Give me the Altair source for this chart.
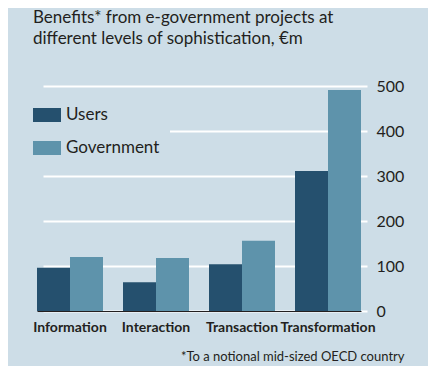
import altair as alt
import pandas as pd

categories = ["Information", "Interaction", "Transaction", "Transformation"]
series = ["Users", "Government"]
users = [96, 64, 104, 311]
government = [120, 118, 156, 491]
y_ticks = [0, 100, 200, 300, 400, 500]

title_lines = ["Benefits* from e-government projects at",
               "different levels of sophistication, €m"]
footnote = "*To a notional mid-sized OECD country"

rows = []
for c, u, g in zip(categories, users, government):
    rows.append({"stage": c, "series": "Users", "value": u})
    rows.append({"stage": c, "series": "Government", "value": g})
df = pd.DataFrame(rows)

FONT = "Lato"
TXT = "#231f20"
BG = "#cddde7"

chart = alt.Chart(df).mark_bar().encode(
    x=alt.X("stage:N", sort=categories,
            scale=alt.Scale(range=[4, 328], paddingInner=20 / 86, paddingOuter=0),
            axis=alt.Axis(title=footnote, labelAngle=0, ticks=False, domain=True,
                          domainColor=TXT, domainWidth=1.2, zindex=1,
                          labelFont=FONT, labelFontSize=14, labelFontWeight="bold",
                          labelColor=TXT, labelPadding=9,
                          titleFont=FONT, titleFontSize=13, titleFontWeight="normal",
                          titleColor=TXT, titleAnchor="end", titleAlign="right",
                          titleX=371, titleY=49, titleBaseline="alphabetic")),
    xOffset=alt.XOffset("series:N", sort=series,
                        scale=alt.Scale(paddingInner=0, paddingOuter=0)),
    y=alt.Y("value:Q", scale=alt.Scale(domain=[0, 500]),
            axis=alt.Axis(title=None, orient="right", values=y_ticks, grid=True,
                          gridColor="white", gridWidth=2, ticks=False, domain=False,
                          labelFont=FONT, labelFontSize=16, labelColor=TXT,
                          labelPadding=5, labelAlign="left")),
    color=alt.Color("series:N", sort=series,
                    scale=alt.Scale(domain=series, range=["#25506e", "#5e93ab"]),
                    legend=alt.Legend(title=None, orient="none", legendX=-10, legendY=5,
                                      direction="vertical",
                                      symbolType="M-1,-0.5H1V0.5H-1Z", symbolSize=784,
                                      symbolStrokeWidth=0, symbolOpacity=1,
                                      labelFont=FONT, labelFontSize=17, labelColor=TXT,
                                      labelOffset=5, rowPadding=11,
                                      fillColor=BG, padding=10)),
).properties(
    width=338, height=225,
    title=alt.TitleParams(text=title_lines, anchor="start", frame="group",
                          font=FONT, fontSize=17, fontWeight="normal", color=TXT,
                          baseline="alphabetic", offset=17, lineHeight=21.5),
    autosize=alt.AutoSizeParams(type="none"),
    padding={"left": 25, "top": 78, "right": 57, "bottom": 55},
    background=BG,
).configure_view(stroke=None)

chart.save("out.html", embed_options={"renderer": "svg", "actions": False})
